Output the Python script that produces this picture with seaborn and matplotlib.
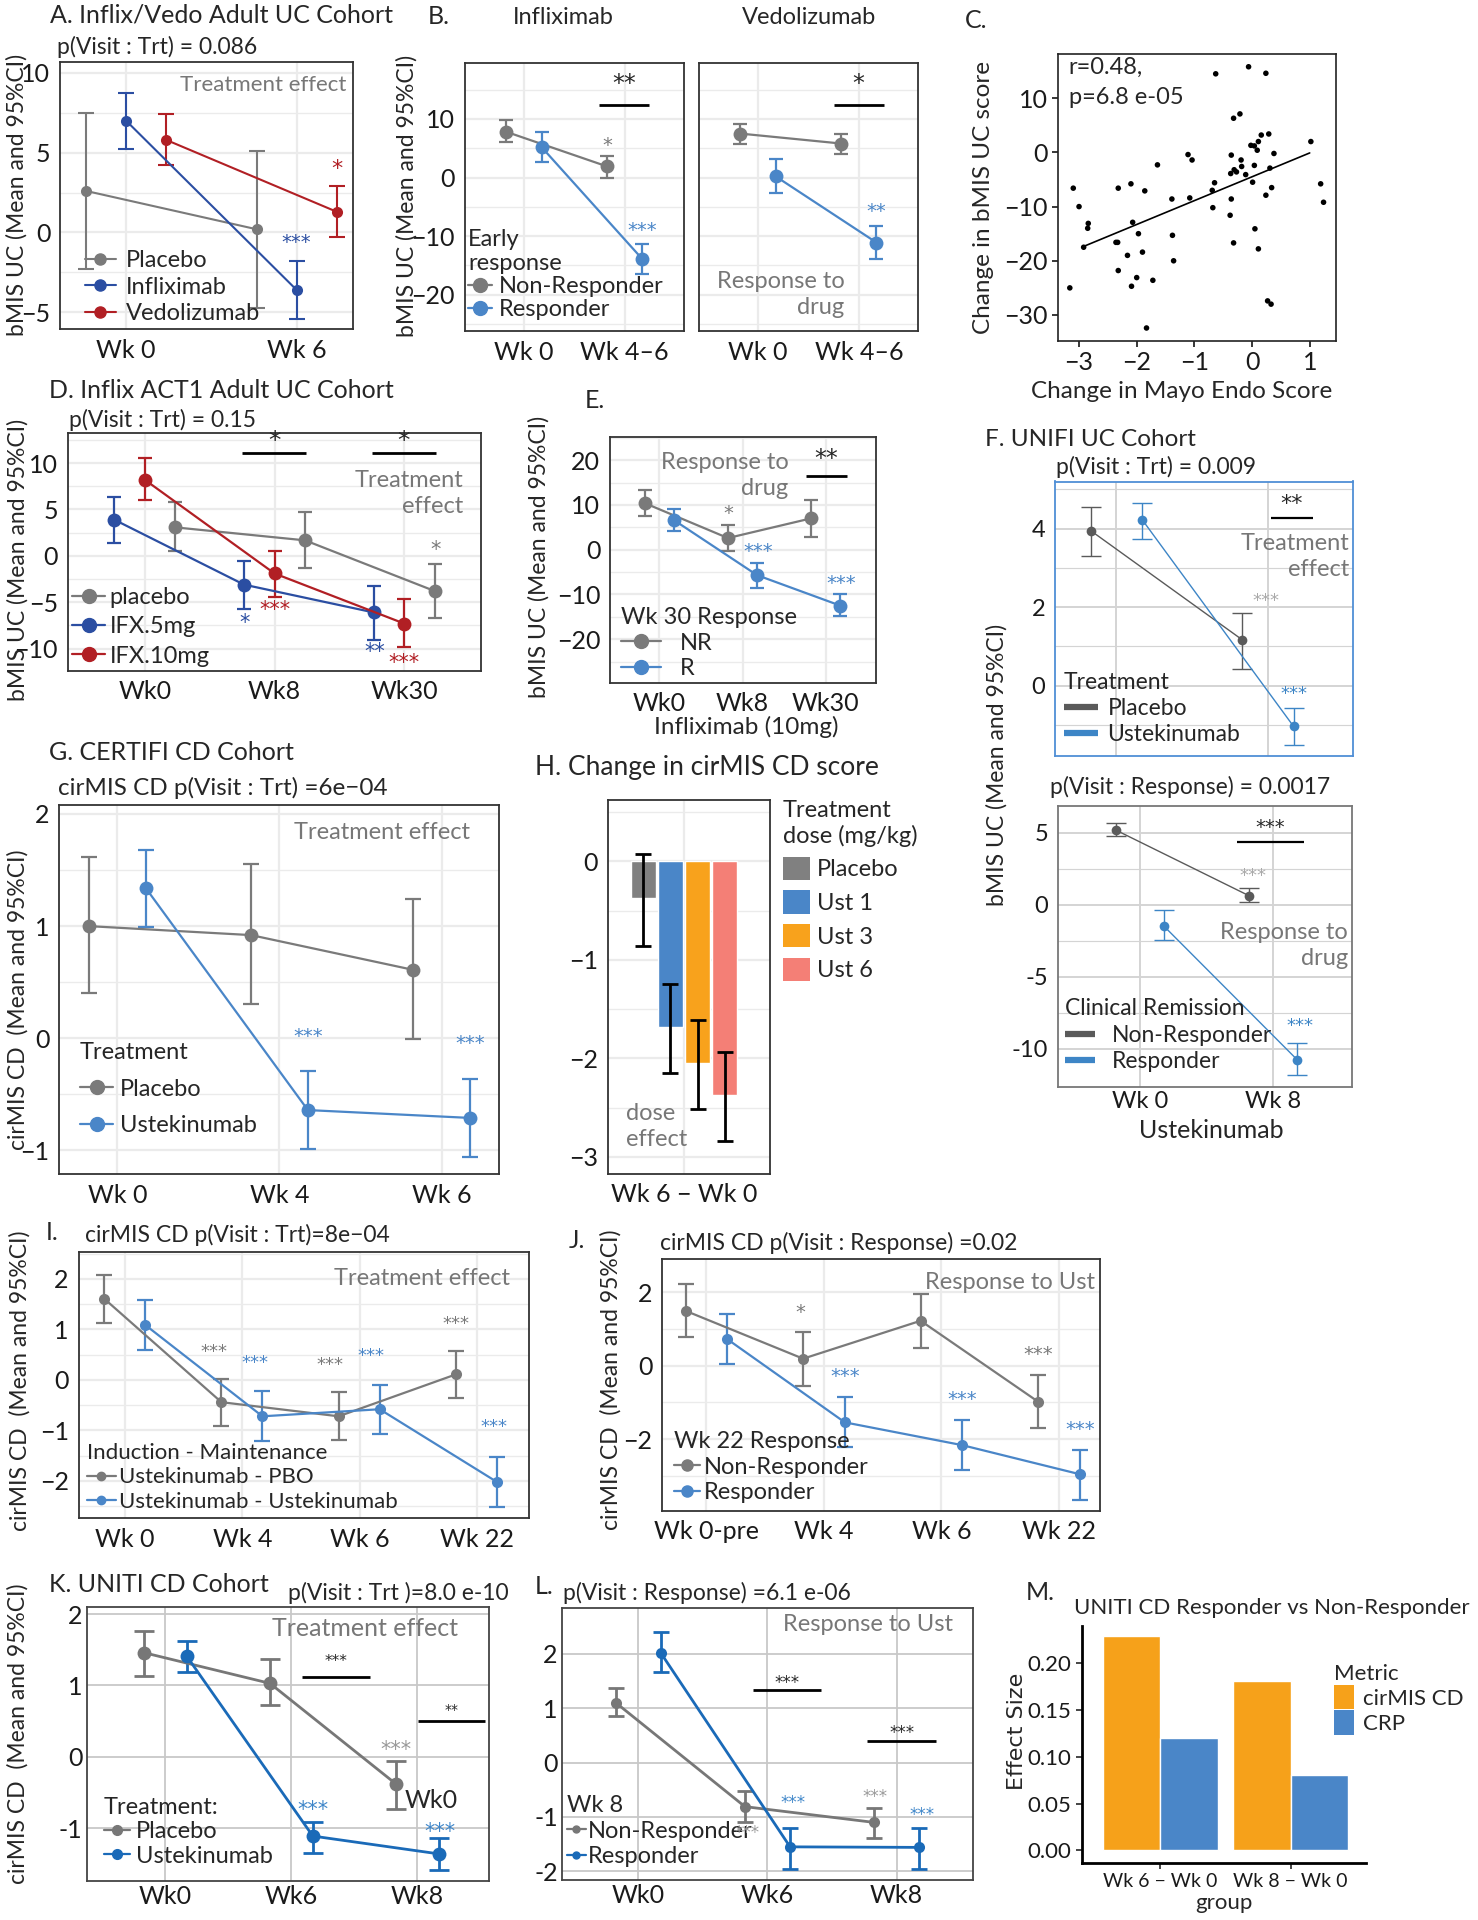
import numpy as np
import pandas as pd
import matplotlib
matplotlib.use('Agg')
import matplotlib.pyplot as plt
from matplotlib.lines import Line2D
from matplotlib.patches import Patch
from matplotlib.ticker import FormatStrFormatter
import seaborn as sns

sns.set_style('white')
plt.rcParams['font.family'] = ['Lato', 'DejaVu Sans']

GRAY = '#7a7a7a'
LBLUE = '#4a86c8'
NOTE = '#777777'
SF = 'DejaVu Sans'   # font for the significance stars

# ---- A. Inflix/Vedo adult UC
a_visits = ['Wk 0', 'Wk 6']
a_groups = ['Placebo', 'Infliximab', 'Vedolizumab']
a_mean = {'Placebo': [2.6, 0.2], 'Infliximab': [7.0, -3.6], 'Vedolizumab': [5.8, 1.3]}
a_lo = {'Placebo': [-2.3, -4.7], 'Infliximab': [5.2, -5.4], 'Vedolizumab': [4.2, -0.3]}
a_hi = {'Placebo': [7.5, 5.1], 'Infliximab': [8.7, -1.8], 'Vedolizumab': [7.4, 2.9]}

# ---- B. early response
b_visits = ['Wk 0', 'Wk 4–6']
b_groups = ['Non-Responder', 'Responder']
b_ifx_mean = {'Non-Responder': [7.8, 1.9], 'Responder': [5.2, -13.9]}
b_ifx_lo = {'Non-Responder': [6.0, -0.1], 'Responder': [2.6, -16.4]}
b_ifx_hi = {'Non-Responder': [9.8, 3.7], 'Responder': [7.7, -11.3]}
b_vedo_mean = {'Non-Responder': [7.5, 5.8], 'Responder': [0.2, -11.1]}
b_vedo_lo = {'Non-Responder': [5.7, 4.1], 'Responder': [-2.7, -13.9]}
b_vedo_hi = {'Non-Responder': [9.2, 7.5], 'Responder': [3.1, -8.2]}

# ---- C. correlation
c_endo = [-3.16, -3.10, -3.0, -2.92, -2.84, -2.85, -2.36, -2.33, -2.32, -2.32, -2.16, -2.10,
          -2.09, -2.07, -2.0, -1.97, -1.90, -1.86, -1.83, -1.72, -1.64, -1.39, -1.38, -1.36,
          -1.11, -1.04, -1.08, -0.69, -0.68, -0.65, -0.63, -0.38, -0.36, -0.37, -0.36, -0.32,
          -0.32, -0.31, -0.27, -0.21, -0.19, -0.18, -0.11, -0.06, -0.02, 0.01, 0.04, 0.05,
          0.04, 0.09, 0.11, 0.11, 0.16, 0.24, 0.24, 0.27, 0.29, 0.31, 0.33, 0.34, 0.38,
          1.02, 1.19, 1.24]
c_bmis = [-25.0, -6.6, -10.0, -17.5, -13.1, -14.0, -16.6, -16.6, -6.6, -21.8, -19.0, -5.8,
          -24.7, -12.9, -23.1, -15.0, -18.4, -7.1, -32.4, -23.6, -2.3, -8.6, -15.3, -20.0,
          -0.4, -1.4, -8.4, -7.0, -10.2, -5.6, 14.5, -11.6, -0.5, -3.9, -8.6, -16.7,
          6.3, -3.2, -3.6, 7.1, -1.4, -2.6, -4.1, 15.8, 1.3, -5.5, -2.4, -14.1,
          1.2, 0.4, 2.0, -17.8, 3.2, -7.9, 14.6, -27.4, 3.4, -2.9, -28.0, -6.5, -0.2,
          2.0, -5.8, -9.2]
c_fit_slope = 4.4
c_fit_intercept = -4.5
c_fit_range = [-2.95, 1.0]

# ---- D. ACT1
d_visits = ['Wk0', 'Wk8', 'Wk30']
d_groups = ['placebo', 'IFX.5mg', 'IFX.10mg']
d_mean = {'placebo': [3.07, 1.67, -3.8], 'IFX.5mg': [3.9, -3.1, -6.1], 'IFX.10mg': [8.2, -1.9, -7.3]}
d_lo = {'placebo': [0.48, -1.35, -6.7], 'IFX.5mg': [1.42, -5.7, -9.1], 'IFX.10mg': [6.0, -4.4, -9.8]}
d_hi = {'placebo': [5.76, 4.7, -0.9], 'IFX.5mg': [6.34, -0.56, -3.2], 'IFX.10mg': [10.5, 0.56, -4.7]}

# ---- E. Wk30 response
e_visits = ['Wk0', 'Wk8', 'Wk30']
e_groups = ['NR', 'R']
e_mean = {'NR': [10.4, 2.6, 7.0], 'R': [6.6, -5.7, -12.5]}
e_lo = {'NR': [7.6, -0.3, 2.9], 'R': [4.1, -8.5, -14.9]}
e_hi = {'NR': [13.4, 5.5, 11.2], 'R': [9.0, -2.9, -10.0]}

# ---- F. UNIFI
f_visits = ['Wk 0', 'Wk 8']
f1_groups = ['Placebo', 'Ustekinumab']
f1_mean = {'Placebo': [3.95, 1.17], 'Ustekinumab': [4.23, -1.04]}
f1_lo = {'Placebo': [3.3, 0.43], 'Ustekinumab': [3.74, -1.5]}
f1_hi = {'Placebo': [4.56, 1.84], 'Ustekinumab': [4.64, -0.57]}
f2_groups = ['Non-Responder', 'Responder']
f2_mean = {'Non-Responder': [5.18, 0.62], 'Responder': [-1.5, -10.78]}
f2_lo = {'Non-Responder': [4.79, 0.2], 'Responder': [-2.48, -11.86]}
f2_hi = {'Non-Responder': [5.67, 1.14], 'Responder': [-0.33, -9.64]}

# ---- G. CERTIFI
g_visits = ['Wk 0', 'Wk 4', 'Wk 6']
g_groups = ['Placebo', 'Ustekinumab']
g_mean = {'Placebo': [1.0, 0.92, 0.61], 'Ustekinumab': [1.34, -0.64, -0.71]}
g_lo = {'Placebo': [0.4, 0.31, -0.01], 'Ustekinumab': [0.99, -0.99, -1.06]}
g_hi = {'Placebo': [1.62, 1.55, 1.24], 'Ustekinumab': [1.68, -0.29, -0.36]}

# ---- H. dose effect
h_visit = 'Wk 6 − Wk 0'
h_doses = ['Placebo', 'Ust 1', 'Ust 3', 'Ust 6']
h_mean = [-0.37, -1.68, -2.05, -2.37]
h_lo = [-0.86, -2.15, -2.51, -2.84]
h_hi = [0.07, -1.24, -1.61, -1.93]

# ---- I. maintenance
i_visits = ['Wk 0', 'Wk 4', 'Wk 6', 'Wk 22']
i_groups = ['Ustekinumab - PBO', 'Ustekinumab - Ustekinumab']
i_mean = {'Ustekinumab - PBO': [1.61, -0.44, -0.72, 0.11], 'Ustekinumab - Ustekinumab': [1.09, -0.72, -0.58, -2.02]}
i_lo = {'Ustekinumab - PBO': [1.13, -0.91, -1.18, -0.36], 'Ustekinumab - Ustekinumab': [0.6, -1.21, -1.07, -2.51]}
i_hi = {'Ustekinumab - PBO': [2.07, 0.02, -0.24, 0.57], 'Ustekinumab - Ustekinumab': [1.58, -0.22, -0.1, -1.53]}

# ---- J. Wk22 response
j_visits = ['Wk 0-pre', 'Wk 4', 'Wk 6', 'Wk 22']
j_groups = ['Non-Responder', 'Responder']
j_mean = {'Non-Responder': [1.49, 0.19, 1.22, -0.98], 'Responder': [0.72, -1.54, -2.16, -2.95]}
j_lo = {'Non-Responder': [0.77, -0.54, 0.49, -1.7], 'Responder': [0.05, -2.21, -2.84, -3.64]}
j_hi = {'Non-Responder': [2.22, 0.91, 1.95, -0.26], 'Responder': [1.4, -0.86, -1.47, -2.28]}

# ---- K. UNITI
k_visits = ['Wk0', 'Wk6', 'Wk8']
k_groups = ['Placebo', 'Ustekinumab']
k_mean = {'Placebo': [1.46, 1.03, -0.38], 'Ustekinumab': [1.41, -1.11, -1.36]}
k_lo = {'Placebo': [1.14, 0.72, -0.73], 'Ustekinumab': [1.19, -1.35, -1.59]}
k_hi = {'Placebo': [1.77, 1.37, -0.06], 'Ustekinumab': [1.62, -0.92, -1.14]}

# ---- L. UNITI response
l_visits = ['Wk0', 'Wk6', 'Wk8']
l_groups = ['Non-Responder', 'Responder']
l_mean = {'Non-Responder': [1.10, -0.81, -1.10], 'Responder': [2.01, -1.55, -1.56]}
l_lo = {'Non-Responder': [0.85, -1.09, -1.38], 'Responder': [1.66, -1.95, -1.95]}
l_hi = {'Non-Responder': [1.37, -0.52, -0.84], 'Responder': [2.4, -1.21, -1.2]}

# ---- M. effect size
m_groups = ['Wk 6 − Wk 0', 'Wk 8 − Wk 0']
m_metrics = ['cirMIS CD', 'CRP']
m_cirmis = [0.228, 0.18]
m_crp = [0.12, 0.08]

W, H = 1478, 1920
fig = plt.figure(figsize=(W / 100, H / 100), dpi=100)


def box(x0, y0, x1, y1):
    return fig.add_axes([x0 / W, 1 - y1 / H, (x1 - x0) / W, (y1 - y0) / H])


def ftext(x, y, s, **kw):
    kw.setdefault('ha', 'left')
    kw.setdefault('va', 'center')
    fig.text(x / W, 1 - y / H, s, **kw)


def ylab(x, y, s, size=16, **kw):
    ftext(x, y, s, rotation=90, ha='center', size=size, **kw)


def dots(ax, visits, names, offs, mean, lo, hi, colors, lw=1.6, ms=8, cap=5):
    rows = []
    for k, nm in enumerate(names):
        for i in range(len(visits)):
            rows.append({'group': nm, 'pos': i + offs[k], 'mean': mean[nm][i],
                         'lo': lo[nm][i], 'hi': hi[nm][i]})
    df = pd.DataFrame(rows)
    sns.lineplot(data=df, x='pos', y='mean', hue='group', hue_order=names, palette=colors,
                 marker='o', markersize=ms, markeredgewidth=0, linewidth=lw, sort=False,
                 legend=False, ax=ax, zorder=3)
    for nm in names:
        g = df[df.group == nm]
        ax.errorbar(g['pos'], g['mean'], yerr=[g['mean'] - g['lo'], g['hi'] - g['mean']],
                    fmt='none', ecolor=colors[nm], elinewidth=lw, capsize=cap, capthick=lw, zorder=2)


def style(ax, xlim, ylim, yticks, minor=(), xlabels=(), grid='#ebebeb', spine='#333333',
          fs=18, ylabels=None, gw=1.6):
    ax.set_xlim(*xlim)
    ax.set_ylim(*ylim)
    ax.set_xticks(range(len(xlabels)), labels=list(xlabels))
    ax.set_yticks(yticks)
    if ylabels is not None:
        ax.set_yticklabels(ylabels)
    ax.set_yticks(list(minor), minor=True)
    ax.grid(True, which='major', color=grid, lw=gw)
    ax.grid(True, which='minor', axis='y', color=grid, lw=gw * 0.6)
    ax.tick_params(which='minor', length=0)
    ax.tick_params(which='major', length=4, width=1.2, color=spine, labelsize=fs,
                   labelcolor='#1a1a1a', pad=3)
    for s in ax.spines.values():
        s.set_visible(True)
        s.set_color(spine)
        s.set_linewidth(1.3)
    ax.set_axisbelow(True)
    ax.set_xlabel('')
    ax.set_ylabel('')


def star(ax, x, y, s, c, fs=14):
    ax.text(x, y, s, color=c, ha='center', va='center', fontsize=fs, family=SF, zorder=6)


def sigbar(ax, x0, x1, y, ty, s, fs=17, lw=2):
    ax.plot([x0, x1], [y, y], color='black', lw=lw, solid_capstyle='butt', zorder=6)
    ax.text((x0 + x1) / 2, ty, s, ha='center', va='center', fontsize=fs, family=SF, zorder=6)


def note(ax, x, y, s, fs=16, ha='right', **kw):
    ax.text(x, y, s, ha=ha, va='center', multialignment=ha, color=NOTE, fontsize=fs,
            linespacing=1.3, zorder=6, **kw)


def leg(ax, labels, colors, x, y, title=None, fs=15, kind='dot', ms=8, lw=1.6, hl=1.4,
        htp=0.4, ls=0.0, hh=0.7):
    if kind == 'dot':
        hs = [Line2D([], [], color=colors[n], marker='o', ms=ms, lw=lw) for n in labels]
    elif kind == 'bar':
        hs = [Line2D([], [], color=colors[n], lw=lw, solid_capstyle='butt') for n in labels]
    else:
        hs = [Patch(facecolor=colors[n], edgecolor='none') for n in labels]
    prop = {'size': fs}
    ax.legend(hs, labels, title=title, loc='upper left', bbox_to_anchor=(x / W, 1 - y / H),
              bbox_transform=fig.transFigure, frameon=False, prop=prop,
              title_fontproperties=prop, alignment='left', borderpad=0, borderaxespad=0,
              handlelength=hl, handletextpad=htp, labelspacing=ls, handleheight=hh)


# ================= A
ax = box(60, 62, 353, 329)
acol = {'Placebo': GRAY, 'Infliximab': '#2b4ea2', 'Vedolizumab': '#b11f24'}
dots(ax, a_visits, a_groups, [-0.234, 0, 0.234], a_mean, a_lo, a_hi, acol, lw=1.5, ms=8, cap=6)
style(ax, (-0.387, 1.33), (-6.04, 10.67), [-5, 0, 5, 10], [-2.5, 2.5, 7.5], a_visits)
note(ax, 1.293, 9.2, 'Treatment effect')
star(ax, 1.0, -0.6, '***', acol['Infliximab'])
star(ax, 1.234, 4.0, '*', acol['Vedolizumab'], fs=16)
leg(ax, a_groups, acol, 85, 250, fs=17, ms=8, lw=1.5, hl=1.3, htp=0.45, ls=0.24)
ftext(50, 15, 'A. Inflix/Vedo Adult UC Cohort', size=18)
ftext(57, 47, 'p(Visit : Trt) = 0.086', size=16.5)
ylab(17, 195, 'bMIS UC (Mean and 95%CI)', size=16.5)

# ================= B
bcol = {'Non-Responder': GRAY, 'Responder': LBLUE}
axl = box(464.6, 62.7, 683.9, 331)
axr = box(698.6, 62.7, 918.2, 331)
for ax, mm, lo, hi in [(axl, b_ifx_mean, b_ifx_lo, b_ifx_hi), (axr, b_vedo_mean, b_vedo_lo, b_vedo_hi)]:
    dots(ax, b_visits, b_groups, [-0.175, 0.175], mm, lo, hi, bcol, lw=1.6, ms=10, cap=5)
    style(ax, (-0.589, 1.589), (-26.2, 19.6), [-20, -10, 0, 10], [-25, -15, -5, 5, 15], b_visits)
axr.tick_params(axis='y', left=False, labelleft=False)
star(axl, 0.825, 5.5, '*', GRAY)
star(axl, 1.17, -9.0, '***', LBLUE)
sigbar(axl, 0.741, 1.241, 12.3, 16.0, '**', fs=17)
star(axr, 1.17, -5.8, '**', LBLUE)
sigbar(axr, 0.75, 1.247, 12.3, 16.0, '*', fs=17)
note(axr, 0.86, -20.0, 'Response to\ndrug', fs=17)
leg(axl, b_groups, bcol, 468, 229, title='Early\nresponse', fs=17, ms=10, lw=1.6, hl=1.0,
    htp=0.3, ls=0.08)
ftext(428, 17, 'B.', size=18)
ftext(563, 17, 'Infliximab', size=17, ha='center')
ftext(809, 17, 'Vedolizumab', size=17, ha='center')
ylab(407, 196, 'bMIS UC (Mean and 95%CI)', size=16.5)

# ================= C
ax = box(1057.7, 54.3, 1336, 341)
sns.scatterplot(x=c_endo, y=c_bmis, color='black', s=16, edgecolor='none', ax=ax, zorder=3)
xs = np.array(c_fit_range)
sns.lineplot(x=xs, y=c_fit_slope * xs + c_fit_intercept, color='black', lw=1.2, ax=ax)
ax.set_xlim(-3.37, 1.456)
ax.set_ylim(-34.8, 18.1)
ax.set_xticks([-3, -2, -1, 0, 1])
ax.set_yticks([-30, -20, -10, 0, 10])
ax.tick_params(length=4, width=1.1, color='black', labelsize=18, labelcolor='#1a1a1a', pad=3,
               left=True, bottom=True)
for s in ax.spines.values():
    s.set_color('#222222')
    s.set_linewidth(1.2)
ax.text(0.04, 0.955, 'r=0.48,', transform=ax.transAxes, fontsize=17, va='center')
ax.text(0.04, 0.85, 'p=6.8 e-05', transform=ax.transAxes, fontsize=17, va='center')
ftext(965, 20, 'C.', size=18)
ylab(983, 198, 'Change in bMIS UC score', size=17.5)
ftext(1182, 392, 'Change in Mayo Endo Score', size=17.5, ha='center')

# ================= D
ax = box(67.7, 433.3, 481, 670.7)
dcol = {'placebo': GRAY, 'IFX.5mg': '#2b4ea2', 'IFX.10mg': '#b11f24'}
dots(ax, d_visits, d_groups, [0.235, -0.235, 0], d_mean, d_lo, d_hi, dcol, lw=1.6, ms=10, cap=5)
style(ax, (-0.593, 2.59), (-12.37, 13.2), [-10, -5, 0, 5, 10], [-7.5, -2.5, 2.5, 7.5, 12.5], d_visits)
ax.set_yticklabels(['−10', '−5', '0', '5', '10'])
star(ax, 0.77, -7.2, '*', dcol['IFX.5mg'], fs=15)
star(ax, 1.0, -5.8, '***', dcol['IFX.10mg'], fs=15)
star(ax, 1.77, -10.4, '**', dcol['IFX.5mg'], fs=15)
star(ax, 2.0, -11.5, '***', dcol['IFX.10mg'], fs=15)
star(ax, 2.24, 0.6, '*', GRAY, fs=15)
sigbar(ax, 0.752, 1.243, 11.1, 12.4, '*', fs=18)
sigbar(ax, 1.75, 2.24, 11.1, 12.4, '*', fs=18)
note(ax, 2.455, 6.7, 'Treatment\neffect', fs=17)
leg(ax, d_groups, dcol, 72, 587, fs=17, ms=10, lw=1.6, hl=1.4, htp=0.2, ls=0.35)
ftext(49, 391, 'D. Inflix ACT1 Adult UC Cohort', size=18)
ftext(69, 420, 'p(Visit : Trt) = 0.15', size=16.5)
ylab(18, 560, 'bMIS UC (Mean and 95%CI)', size=16.5)

# ================= E
ax = box(610, 437.3, 875.7, 682.7)
ecol = {'NR': GRAY, 'R': LBLUE}
dots(ax, e_visits, e_groups, [-0.176, 0.176], e_mean, e_lo, e_hi, ecol, lw=1.6, ms=10, cap=5)
style(ax, (-0.593, 2.6), (-29.7, 25.1), [-20, -10, 0, 10, 20], [-25, -15, -5, 5, 15, 25], e_visits)
star(ax, 0.83, 8.0, '*', GRAY)
star(ax, 1.19, -0.5, '***', LBLUE)
star(ax, 2.19, -7.6, '***', LBLUE)
sigbar(ax, 1.76, 2.25, 16.4, 20.3, '**', fs=17)
note(ax, 1.55, 16.5, 'Response to\ndrug', fs=17)
leg(ax, e_groups, ecol, 621, 607, title='Wk 30 Response', fs=17, ms=10, lw=1.6, hl=1.7,
    htp=0.8, ls=0.2)
ftext(585, 400, 'E.', size=18)
ftext(746, 727, 'Infliximab (10mg)', size=17.5, ha='center')
ylab(539, 557, 'bMIS UC (Mean and 95%CI)', size=16.5)

# ================= F
fcol1 = {'Placebo': '#5a5a5a', 'Ustekinumab': '#3d85c6'}
fcol2 = {'Non-Responder': '#5a5a5a', 'Responder': '#3d85c6'}
ax = box(1055, 481.5, 1352.7, 755.9)
dots(ax, f_visits, f1_groups, [-0.17, 0.17], f1_mean, f1_lo, f1_hi, fcol1, lw=1.0, ms=7, cap=7)
style(ax, (-0.405, 1.56), (-1.79, 5.2), [0, 2, 4], [-1, 1, 3, 5], f_visits, fs=17,
      grid='#d4d4d4', spine='#4f8fd6', gw=1.4)
ax.tick_params(axis='x', bottom=False, labelbottom=False)
ax.tick_params(axis='y', color='#333333')
star(ax, 0.99, 2.15, '***', '#aaaaaa', fs=13)
star(ax, 1.17, -0.22, '***', '#3d85c6', fs=13)
sigbar(ax, 1.02, 1.295, 4.27, 4.62, '**', fs=16, lw=1.6)
note(ax, 1.535, 3.28, 'Treatment\neffect', fs=17)
leg(ax, f1_groups, fcol1, 1064, 672, title='Treatment', fs=16.5, kind='bar', lw=4.5, hl=1.5,
    htp=0.4, ls=0.22)

ax = box(1057.7, 806, 1351.7, 1086.9)
dots(ax, f_visits, f2_groups, [-0.18, 0.18], f2_mean, f2_lo, f2_hi, fcol2, lw=1.0, ms=7, cap=7)
style(ax, (-0.62, 1.59), (-12.67, 6.87), [-10, -5, 0, 5], [-7.5, -2.5, 2.5], f_visits, fs=17,
      grid='#d4d4d4', spine='#777777', gw=1.4, ylabels=['-10', '-5', '0', '5'])
ax.tick_params(axis='x', length=0)
star(ax, 0.85, 2.0, '***', '#aaaaaa', fs=13)
star(ax, 1.2, -8.4, '***', '#3d85c6', fs=13)
sigbar(ax, 0.725, 1.23, 4.36, 5.4, '***', fs=14, lw=1.6)
note(ax, 1.5625, -2.85, 'Response to\ndrug', fs=17)
leg(ax, f2_groups, fcol2, 1065, 998, title='Clinical Remission', fs=16.5, kind='bar', lw=4.5,
    hl=1.3, htp=0.75, ls=0.25)
ftext(985, 440, 'F. UNIFI UC Cohort', size=17.5)
ftext(1056, 467, 'p(Visit : Trt) = 0.009', size=16.5)
ftext(1050, 787, 'p(Visit : Response) = 0.0017', size=16.5)
ftext(1211, 1130, 'Ustekinumab', size=18, ha='center')
ylab(997, 765, 'bMIS UC (Mean and 95%CI)', size=16.5)

# ================= G
ax = box(59.3, 805, 499, 1174)
gcol = {'Placebo': GRAY, 'Ustekinumab': LBLUE}
dots(ax, g_visits, g_groups, [-0.175, 0.175], g_mean, g_lo, g_hi, gcol, lw=1.6, ms=10, cap=6)
style(ax, (-0.358, 2.354), (-1.21, 2.08), [-1, 0, 1, 2], [-0.5, 0.5, 1.5], g_visits)
star(ax, 1.175, 0.02, '***', LBLUE)
star(ax, 2.175, -0.05, '***', LBLUE)
note(ax, 2.175, 1.835, 'Treatment effect', fs=17)
leg(ax, g_groups, gcol, 80, 1042, title='Treatment', fs=17, ms=10, lw=1.6, hl=1.4, htp=0.3,
    ls=0.66)
ftext(49, 752, 'G. CERTIFI CD Cohort', size=18)
ftext(58, 788, 'cirMIS CD p(Visit : Trt) =6e−04', size=17.5)
ylab(18, 1000, 'cirMIS CD  (Mean and 95%CI)', size=16.5)

# ================= H
ax = box(607.7, 800.3, 770, 1173.7)
hcol = {'Placebo': '#808080', 'Ust 1': '#4a86c8', 'Ust 3': '#f8a21c', 'Ust 6': '#f47f76'}
hdf = pd.DataFrame({'visit': [h_visit] * 4, 'dose': h_doses, 'change': h_mean})
sns.barplot(data=hdf, x='visit', y='change', hue='dose', hue_order=h_doses, palette=hcol,
            width=0.8, gap=0.08, saturation=1, errorbar=None, legend=False, ax=ax, zorder=2)
for cont, m, lo, hi in zip(ax.containers, h_mean, h_lo, h_hi):
    bar = cont[0]
    xc = bar.get_x() + bar.get_width() / 2
    ax.errorbar([xc], [(lo + hi) / 2], yerr=[[(hi - lo) / 2], [(hi - lo) / 2]], fmt='none',
                ecolor='black', elinewidth=2, capsize=6, capthick=2, zorder=4)
style(ax, (-0.562, 0.633), (-3.17, 0.62), [-3, -2, -1, 0], [-2.5, -1.5, -0.5, 0.5], [h_visit])
note(ax, -0.43, -2.695, 'dose\neffect', fs=17, ha='left')
leg(ax, h_doses, hcol, 783, 800, title='Treatment\ndose (mg/kg)', fs=17, kind='patch', hl=1.15,
    hh=1.15, htp=0.3, ls=0.42)
ftext(535, 767, 'H. Change in cirMIS CD score', size=19)

# ================= I
ax = box(78.5, 1251.7, 528.8, 1518.3)
icol = {'Ustekinumab - PBO': GRAY, 'Ustekinumab - Ustekinumab': LBLUE}
dots(ax, i_visits, i_groups, [-0.178, 0.172], i_mean, i_lo, i_hi, icol, lw=1.6, ms=8, cap=6)
style(ax, (-0.397, 3.444), (-2.74, 2.54), [-2, -1, 0, 1, 2], [-2.5, -1.5, -0.5, 0.5, 1.5, 2.5], i_visits)
for xx, yy, cc in [(0.76, 0.55, GRAY), (1.11, 0.33, LBLUE), (1.75, 0.3, GRAY), (2.1, 0.47, LBLUE),
                   (2.82, 1.1, GRAY), (3.15, -0.94, LBLUE)]:
    star(ax, xx, yy, '***', cc, fs=13)
note(ax, 3.28, 2.0, 'Treatment effect', fs=17)
leg(ax, i_groups, icol, 87, 1443, title='Induction - Maintenance', fs=16, ms=6, lw=1.6, hl=1.3,
    htp=0.15, ls=0.2)
ftext(46, 1233, 'I.', size=18)
ftext(85, 1235, 'cirMIS CD p(Visit : Trt)=8e−04', size=16.5)
ylab(20, 1381, 'cirMIS CD  (Mean and 95%CI)', size=16.5)

# ================= J
ax = box(662.2, 1259.3, 1100, 1510.7)
jcol = {'Non-Responder': GRAY, 'Responder': LBLUE}
dots(ax, j_visits, j_groups, [-0.176, 0.179], j_mean, j_lo, j_hi, jcol, lw=1.6, ms=8, cap=6)
style(ax, (-0.375, 3.35), (-3.94, 2.89), [-2, 0, 2], [-3, -1, 1], j_visits)
star(ax, 0.8, 1.45, '*', GRAY)
for xx, yy, cc in [(1.18, -0.3, LBLUE), (2.18, -0.92, LBLUE), (2.82, 0.3, GRAY), (3.18, -1.73, LBLUE)]:
    star(ax, xx, yy, '***', cc)
note(ax, 3.31, 2.26, 'Response to Ust', fs=17)
leg(ax, j_groups, jcol, 674, 1431, title='Wk 22 Response', fs=17, ms=8, lw=1.6, hl=1.1,
    htp=0.15, ls=0.2)
ftext(569, 1240, 'J.', size=18)
ftext(660, 1243, 'cirMIS CD p(Visit : Response) =0.02', size=16.5)
ylab(611, 1380, 'cirMIS CD  (Mean and 95%CI)', size=16.5)

# ================= K
ax = box(86.7, 1607, 488.7, 1881)
kcol = {'Placebo': '#777777', 'Ustekinumab': '#1a6ab8'}
dots(ax, k_visits, k_groups, [-0.17, 0.17], k_mean, k_lo, k_hi, kcol, lw=2.0, ms=10, cap=7)
style(ax, (-0.624, 2.566), (-1.74, 2.1), [-1, 0, 1, 2], [], k_visits, grid='#c8c8c8',
      spine='#444444', gw=1.3, ylabels=['-1', '0', '1', '2'])
ax.tick_params(axis='both', length=0)
star(ax, 1.83, 0.1, '***', '#999999', fs=15)
star(ax, 1.17, -0.74, '***', '#3f86c9', fs=15)
star(ax, 2.18, -1.06, '***', '#3f86c9', fs=15)
sigbar(ax, 1.085, 1.627, 1.12, 1.33, '***', fs=11, lw=2)
sigbar(ax, 2.003, 2.54, 0.506, 0.66, '**', fs=10, lw=2)
note(ax, 2.325, 1.8, 'Treatment effect', fs=18)
ax.text(1.902, -0.61, 'Wk0', ha='left', va='center', fontsize=18, zorder=6)
leg(ax, k_groups, kcol, 104, 1797, title='Treatment:', fs=17, ms=7, lw=1.6, hl=1.1,
    htp=0.25, ls=0.14)
ftext(49, 1584, 'K. UNITI CD Cohort', size=18)
ftext(288, 1593, 'p(Visit : Trt )=8.0 e-10', size=16.5)
ylab(18, 1734, 'cirMIS CD  (Mean and 95%CI)', size=16.5)

# ================= L
ax = box(562, 1607.7, 973, 1880)
lcol = {'Non-Responder': '#777777', 'Responder': '#1a6ab8'}
dots(ax, l_visits, l_groups, [-0.175, 0.175], l_mean, l_lo, l_hi, lcol, lw=2.0, ms=8, cap=6)
style(ax, (-0.593, 2.593), (-2.16, 2.85), [-2, -1, 0, 1, 2], [], l_visits, grid='#c8c8c8',
      spine='#444444', gw=1.3, ylabels=['-2', '-1', '0', '1', '2'])
ax.tick_params(axis='both', length=0)
star(ax, 1.83, -0.64, '***', '#999999', fs=12)
star(ax, 1.2, -0.74, '***', '#3f86c9', fs=12)
star(ax, 2.2, -0.96, '***', '#3f86c9', fs=12)
star(ax, 0.84, -1.3, '***', '#999999', fs=12)
sigbar(ax, 0.89, 1.416, 1.33, 1.46, '***', fs=12, lw=2)
sigbar(ax, 1.775, 2.31, 0.40, 0.54, '***', fs=12, lw=2)
note(ax, 2.44, 2.55, 'Response to Ust', fs=17)
leg(ax, l_groups, lcol, 567, 1795, title='Wk 8', fs=17, ms=5, lw=1.6, hl=0.8, htp=0.1,
    ls=0.2)
ftext(535, 1586, 'L.', size=18)
ftext(563, 1593, 'p(Visit : Response) =6.1 e-06', size=16.5)

# ================= M
ax = box(1082, 1626, 1366, 1862.7)
mcol = {'cirMIS CD': '#f6a11a', 'CRP': '#4a86c8'}
mdf = pd.DataFrame({'group': m_groups * 2,
                    'metric': [m_metrics[0]] * 2 + [m_metrics[1]] * 2,
                    'value': m_cirmis + m_crp})
sns.barplot(data=mdf, x='group', y='value', hue='metric', hue_order=m_metrics, palette=mcol,
            width=0.88, saturation=1, errorbar=None, legend=False, ax=ax)
ax.set_xlim(-0.6, 1.578)
ax.set_ylim(-0.013, 0.239)
ax.set_yticks([0, 0.05, 0.10, 0.15, 0.20])
ax.yaxis.set_major_formatter(FormatStrFormatter('%.2f'))
sns.despine(ax=ax)
for s in ['left', 'bottom']:
    ax.spines[s].set_color('black')
    ax.spines[s].set_linewidth(2)
ax.tick_params(length=4, width=1.2, labelsize=16, labelcolor='#1a1a1a', left=True, bottom=True)
ax.tick_params(axis='x', labelsize=14)
ax.set_xlabel('')
ax.set_ylabel('')
leg(ax, m_metrics, mcol, 1334, 1664, title='Metric', fs=16, kind='patch', hl=0.9, hh=1.3,
    htp=0.4, ls=0.05)
ftext(1026, 1593, 'M.', size=18)
ftext(1074, 1608, 'UNITI CD Responder vs Non-Responder', size=16)
ylab(1017, 1731, 'Effect Size', size=16, family='DejaVu Sans')
ftext(1224, 1903, 'group', size=16, ha='center')

fig.savefig('out.png', dpi=100)
